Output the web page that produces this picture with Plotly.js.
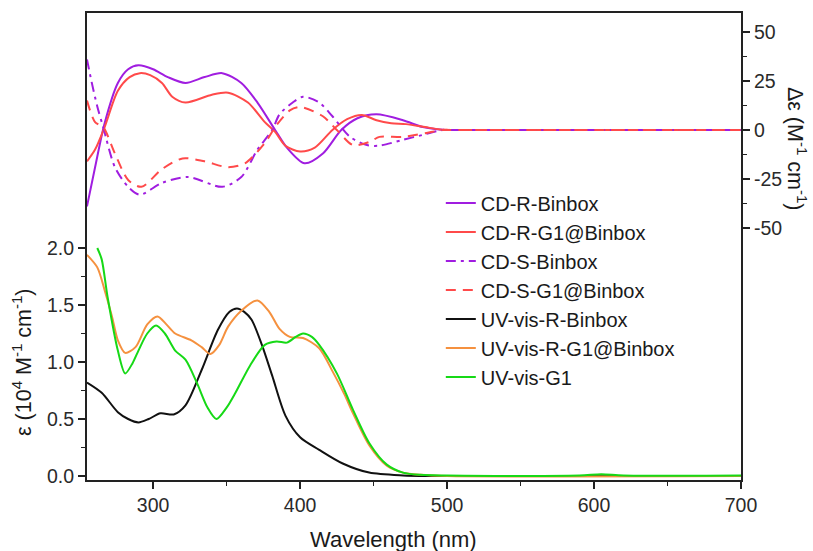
<!DOCTYPE html>
<html>
<head>
<meta charset="utf-8">
<script src="https://cdn.plot.ly/plotly-3.0.1.min.js"></script>
<style>html,body{margin:0;padding:0;background:#fff;}#chart{width:813px;height:551px;}</style>
</head>
<body>
<div id="chart"></div>
<script>
// ---- CD spectra (Δε, M^-1 cm^-1) ----
const cdRBinboxX = [255,260.5,267,276,283,290,300,310,322,335,347,360,371,383,391,403,415.5,428,439,452,470,483.5,497,505,600,700];
const cdRBinboxY = [-39,-19,3.5,24,31,33,31,27,24,27,29,24,14,0,-9,-17,-12,0,6,8,5,1.5,0.1,0,0,0];

const cdRG1X = [255,260.5,267,276,284,291,298,306,313,322,340,351,364.5,376,383,390,400,410,422,432,442,452,462,472,485,495,505,600,700];
const cdRG1Y = [-16,-10,1.5,20,27,29,28,24,17,14,18,19,14,4,-1,-8,-11,-9,0,5.5,7.7,5,3.5,3,1.5,0.3,0,0,0];

const cdSBinboxX = [255,258,262,266,274,283,291,306,324,347,360,371,381,386,395,402,413,422,434,445.5,454,470,483.5,497,505,600,700];
const cdSBinboxY = [36,25,12,1.5,-19,-29,-33,-27,-24,-29,-24,-10,0,8,14,17,14,7,-3.5,-7.7,-8,-5,-2.5,0,0,0,0];

const cdSG1X = [255,260.5,266,274,283,292,306,320,335,351,362.5,376,384,393,400,415.5,425,436,447.5,454,470,486,497,505,600,700];
const cdSG1Y = [15,4,1.5,-12,-25.5,-29,-20,-14.5,-16,-19,-17,-6.6,2.5,10,11.7,7,0,-7.7,-6,-3.5,-3.5,-1.5,0,0,0,0];

// ---- UV-vis spectra (ε, 10^4 M^-1 cm^-1) ----
const uvRBinboxX = [255,265,276,283,290,297,305,314,322,333,344,352,357,362,367,374,381,390,400,413,429,447,470,490,700];
const uvRBinboxY = [0.82,0.73,0.56,0.5,0.47,0.5,0.55,0.54,0.62,0.93,1.28,1.44,1.47,1.44,1.37,1.15,0.88,0.53,0.34,0.23,0.11,0.03,0.005,0,0];

const uvRG1X = [255,262,267,272,276,281,288,296,303,309,315,326,333,339,345,351,360,371,379,386,393,402,413,422,430,436,447,459,470,482,500,700];
const uvRG1Y = [1.94,1.83,1.63,1.4,1.19,1.08,1.13,1.33,1.4,1.33,1.25,1.19,1.13,1.07,1.15,1.31,1.45,1.54,1.44,1.29,1.22,1.21,1.12,0.92,0.72,0.55,0.27,0.09,0.03,0.01,0,0];

const uvG1X = [262,265,269,276,281,286,290,296,302,308,315,322,330,337,343,350,356,366,376,384,391,397,402,408,413,425,436,447,459,470,482,500,590,605,620,700];
const uvG1Y = [2.0,1.9,1.57,1.1,0.9,0.99,1.1,1.25,1.32,1.25,1.1,1.02,0.81,0.6,0.5,0.6,0.73,0.97,1.15,1.18,1.17,1.22,1.25,1.22,1.15,0.9,0.58,0.29,0.1,0.03,0.01,0.005,0.005,0.015,0.005,0.005];

const names = ['CD-R-Binbox','CD-R-G1@Binbox','CD-S-Binbox','CD-S-G1@Binbox','UV-vis-R-Binbox','UV-vis-R-G1@Binbox','UV-vis-G1'];
const xTicks = [300,400,500,600,700];
const yTicks = [0,0.5,1,1.5,2];
const yTickText = ['0.0','0.5','1.0','1.5','2.0'];
const y2Ticks = [-50,-25,0,25,50];
const y2TickText = ['-50','-25','0','25','50'];

const purple = '#a01de0', red = '#ff4a4a', black = '#111111', orange = '#f5913f', green = '#16d916';
const font = 'Liberation Sans, Arial, sans-serif';

function tr(x, y, name, color, dash, axis) {
  return {x: x, y: y, name: name, type: 'scatter', mode: 'lines', yaxis: axis,
    line: {color: color, width: 2, dash: dash, shape: 'spline', smoothing: 0.8}};
}

const data = [
  tr(cdRBinboxX, cdRBinboxY, names[0], purple, 'solid', 'y2'),
  tr(cdRG1X, cdRG1Y, names[1], red, 'solid', 'y2'),
  tr(cdSBinboxX, cdSBinboxY, names[2], purple, '10px,5px,3px,5px', 'y2'),
  tr(cdSG1X, cdSG1Y, names[3], red, '10px,7px', 'y2'),
  tr(uvRBinboxX, uvRBinboxY, names[4], black, 'solid', 'y'),
  tr(uvRG1X, uvRG1Y, names[5], orange, 'solid', 'y'),
  tr(uvG1X, uvG1Y, names[6], green, 'solid', 'y')
];

const tickFont = {family: font, size: 19.5, color: '#2a2a2a'};
const minorCommon = {ticks: 'outside', ticklen: 4, tickwidth: 1.5, tickcolor: '#222'};

const layout = {
  width: 813, height: 551,
  margin: {l: 87, r: 72, t: 13, b: 71},
  paper_bgcolor: '#fff', plot_bgcolor: '#fff',
  showlegend: true,
  legend: {x: 0.541, y: 0.635, xanchor: 'left', yanchor: 'top', bgcolor: 'rgba(0,0,0,0)',
    font: {family: font, size: 20, color: '#1a1a1a'}, tracegroupgap: 0, itemwidth: 30},
  xaxis: {range: [255, 700], tickmode: 'array', tickvals: xTicks,
    ticks: 'outside', ticklen: 7, tickwidth: 1.5, tickcolor: '#222',
    minor: Object.assign({tickmode: 'array', tickvals: [350,450,550,650]}, minorCommon),
    showline: true, linecolor: '#222', linewidth: 2, mirror: true,
    showgrid: false, zeroline: false, tickfont: tickFont},
  yaxis: {range: [-0.035, 4.061], tickmode: 'array', tickvals: yTicks, ticktext: yTickText,
    ticks: 'outside', ticklen: 7, tickwidth: 1.5, tickcolor: '#222',
    minor: Object.assign({tickmode: 'array', tickvals: [0.25,0.75,1.25,1.75]}, minorCommon),
    showline: true, linecolor: '#222', linewidth: 2,
    showgrid: false, zeroline: false, tickfont: tickFont},
  yaxis2: {overlaying: 'y', side: 'right', range: [-178.6, 59.7], tickmode: 'array', tickvals: y2Ticks, ticktext: y2TickText,
    ticks: 'outside', ticklen: 7, tickwidth: 1.5, tickcolor: '#222',
    minor: Object.assign({tickmode: 'array', tickvals: [-37.5,-12.5,12.5,37.5]}, minorCommon),
    showline: true, linecolor: '#222', linewidth: 2,
    showgrid: false, zeroline: false, tickfont: tickFont},
  annotations: [
    {text: 'Wavelength (nm)', xref: 'paper', yref: 'paper', x: 0.469, y: -0.128, xanchor: 'center', yanchor: 'middle',
      showarrow: false, font: {family: font, size: 22, color: '#1a1a1a'}},
    {text: 'ε (10<sup>4</sup> M<sup>-1</sup> cm<sup>-1</sup>)', xref: 'paper', yref: 'paper', x: -0.0994, y: 0.2527,
      xanchor: 'center', yanchor: 'middle', textangle: -90, showarrow: false, font: {family: font, size: 21.5, color: '#1a1a1a'}},
    {text: 'Δε (M<sup>-1</sup> cm<sup>-1</sup>)', xref: 'paper', yref: 'paper', x: 1.0856, y: 0.709,
      xanchor: 'center', yanchor: 'middle', textangle: 90, showarrow: false, font: {family: font, size: 21.5, color: '#1a1a1a'}}
  ]
};

Plotly.newPlot('chart', data, layout, {displayModeBar: false, staticPlot: true});
</script>
</body>
</html>
